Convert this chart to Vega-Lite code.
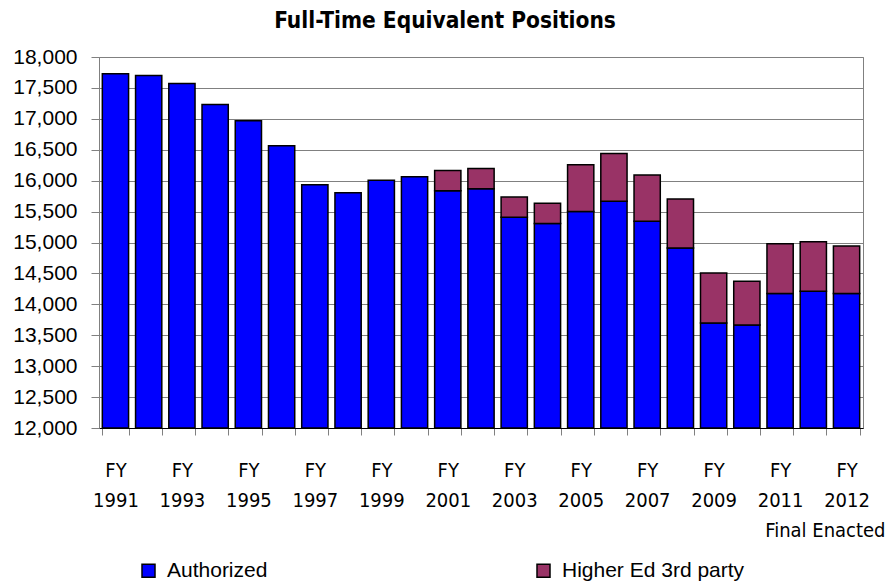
{
  "$schema": "https://vega.github.io/schema/vega-lite/v6.json",
  "width": 764,
  "height": 371,
  "autosize": "none",
  "padding": {"left": 99, "top": 57, "right": 25, "bottom": 157},
  "background": "white",
  "title": {
    "text": "Full-Time Equivalent Positions",
    "font": "DejaVu Sans Condensed, Liberation Sans",
    "fontWeight": "bold",
    "fontSize": 22.5,
    "color": "black",
    "anchor": "middle",
    "frame": "group",
    "dx": -36,
    "offset": 14
  },
  "config": {
    "view": {"stroke": "#808080"},
    "axis": {"labelColor": "black", "domainColor": "#808080", "tickColor": "#808080"}
  },
  "data": {
    "values": [
      {"fy": "FY|1991", "type": "Authorized", "ftes": 17730},
      {"fy": "FY|1992", "type": "Authorized", "ftes": 17700},
      {"fy": "FY|1993", "type": "Authorized", "ftes": 17570},
      {"fy": "FY|1994", "type": "Authorized", "ftes": 17230},
      {"fy": "FY|1995", "type": "Authorized", "ftes": 16970},
      {"fy": "FY|1996", "type": "Authorized", "ftes": 16565},
      {"fy": "FY|1997", "type": "Authorized", "ftes": 15935},
      {"fy": "FY|1998", "type": "Authorized", "ftes": 15805},
      {"fy": "FY|1999", "type": "Authorized", "ftes": 16005},
      {"fy": "FY|2000", "type": "Authorized", "ftes": 16065},
      {"fy": "FY|2001", "type": "Authorized", "ftes": 15836},
      {"fy": "FY|2001", "type": "Higher Ed 3rd party", "ftes": 328},
      {"fy": "FY|2002", "type": "Authorized", "ftes": 15869},
      {"fy": "FY|2002", "type": "Higher Ed 3rd party", "ftes": 328},
      {"fy": "FY|2003", "type": "Authorized", "ftes": 15407},
      {"fy": "FY|2003", "type": "Higher Ed 3rd party", "ftes": 328},
      {"fy": "FY|2004", "type": "Authorized", "ftes": 15309},
      {"fy": "FY|2004", "type": "Higher Ed 3rd party", "ftes": 327},
      {"fy": "FY|2005", "type": "Authorized", "ftes": 15500},
      {"fy": "FY|2005", "type": "Higher Ed 3rd party", "ftes": 757},
      {"fy": "FY|2006", "type": "Authorized", "ftes": 15669},
      {"fy": "FY|2006", "type": "Higher Ed 3rd party", "ftes": 771},
      {"fy": "FY|2007", "type": "Authorized", "ftes": 15342},
      {"fy": "FY|2007", "type": "Higher Ed 3rd party", "ftes": 751},
      {"fy": "FY|2008", "type": "Authorized", "ftes": 14913},
      {"fy": "FY|2008", "type": "Higher Ed 3rd party", "ftes": 789},
      {"fy": "FY|2009", "type": "Authorized", "ftes": 13697},
      {"fy": "FY|2009", "type": "Higher Ed 3rd party", "ftes": 808},
      {"fy": "FY|2010", "type": "Authorized", "ftes": 13664},
      {"fy": "FY|2010", "type": "Higher Ed 3rd party", "ftes": 710},
      {"fy": "FY|2011", "type": "Authorized", "ftes": 14175},
      {"fy": "FY|2011", "type": "Higher Ed 3rd party", "ftes": 803},
      {"fy": "FY|2012|Request", "type": "Authorized", "ftes": 14213},
      {"fy": "FY|2012|Request", "type": "Higher Ed 3rd party", "ftes": 798},
      {"fy": "FY|2012|Final Enacted", "type": "Authorized", "ftes": 14175},
      {"fy": "FY|2012|Final Enacted", "type": "Higher Ed 3rd party", "ftes": 770}
    ]
  },
  "layer": [
    {
      "mark": {"type": "bar", "stroke": "black", "strokeWidth": 1.5},
      "encoding": {
        "x": {
          "field": "fy",
          "type": "ordinal",
          "sort": null,
          "scale": {"paddingInner": 0.21, "paddingOuter": 0.1},
          "axis": {
            "title": null,
            "orient": "bottom",
            "labelAngle": 0,
            "labelFont": "DejaVu Sans Condensed, Liberation Sans",
            "labelFontSize": 20,
            "labelLineHeight": 30,
            "labelPadding": 25,
            "tickBand": "extent",
            "tickSize": 7,
            "domainColor": "#000000",
            "labelExpr": "(datum.value == null || test(/[02468]$|Request/, datum.value)) ? '' : (indexof(datum.value, 'Final') >= 0 ? ['FY', '2012'] : split(datum.value, '|'))"
          }
        },
        "y": {
          "field": "ftes",
          "type": "quantitative",
          "scale": {"domain": [12000, 18000], "zero": false, "nice": false, "clamp": true},
          "axis": {
            "title": null,
            "values": [12000, 12500, 13000, 13500, 14000, 14500, 15000, 15500, 16000, 16500, 17000, 17500, 18000],
            "format": ",.0f",
            "labelFont": "Liberation Sans",
            "labelFontSize": 21,
            "labelPadding": 14,
            "tickSize": 8,
            "grid": true,
            "gridColor": "#808080",
            "gridOpacity": 1
          }
        },
        "order": {"field": "type", "sort": "ascending"},
        "color": {
          "field": "type",
          "type": "nominal",
          "scale": {"domain": ["Authorized", "Higher Ed 3rd party"], "range": ["#0000FF", "#993366"]},
          "legend": {
            "title": null,
            "orient": "none",
            "legendX": 39,
            "legendY": 503,
            "direction": "horizontal",
            "columnPadding": 265,
            "symbolType": "square",
            "symbolSize": 169,
            "symbolStrokeColor": "black",
            "symbolStrokeWidth": 1.5,
            "symbolOpacity": 1,
            "labelFont": "Liberation Sans",
            "labelFontSize": 21,
            "labelColor": "black",
            "labelOffset": 8,
            "labelLimit": 400
          }
        }
      }
    },
    {
      "mark": {"type": "rule", "opacity": 0},
      "encoding": {
        "x": {
          "field": "fy",
          "type": "ordinal",
          "sort": null,
          "axis": {
            "title": null,
            "orient": "bottom",
            "labelAngle": 0,
            "labelFont": "DejaVu Sans Condensed, Liberation Sans",
            "labelFontSize": 20,
            "labelPadding": 92,
            "labelAlign": "right",
            "labelOffset": 39,
            "labelBaseline": "top",
            "ticks": false,
            "domain": false,
            "grid": false,
            "labelExpr": "(datum.value != null && indexof(datum.value, 'Final') >= 0) ? 'Final Enacted' : ''"
          }
        }
      }
    }
  ],
  "resolve": {"axis": {"x": "independent"}}
}
